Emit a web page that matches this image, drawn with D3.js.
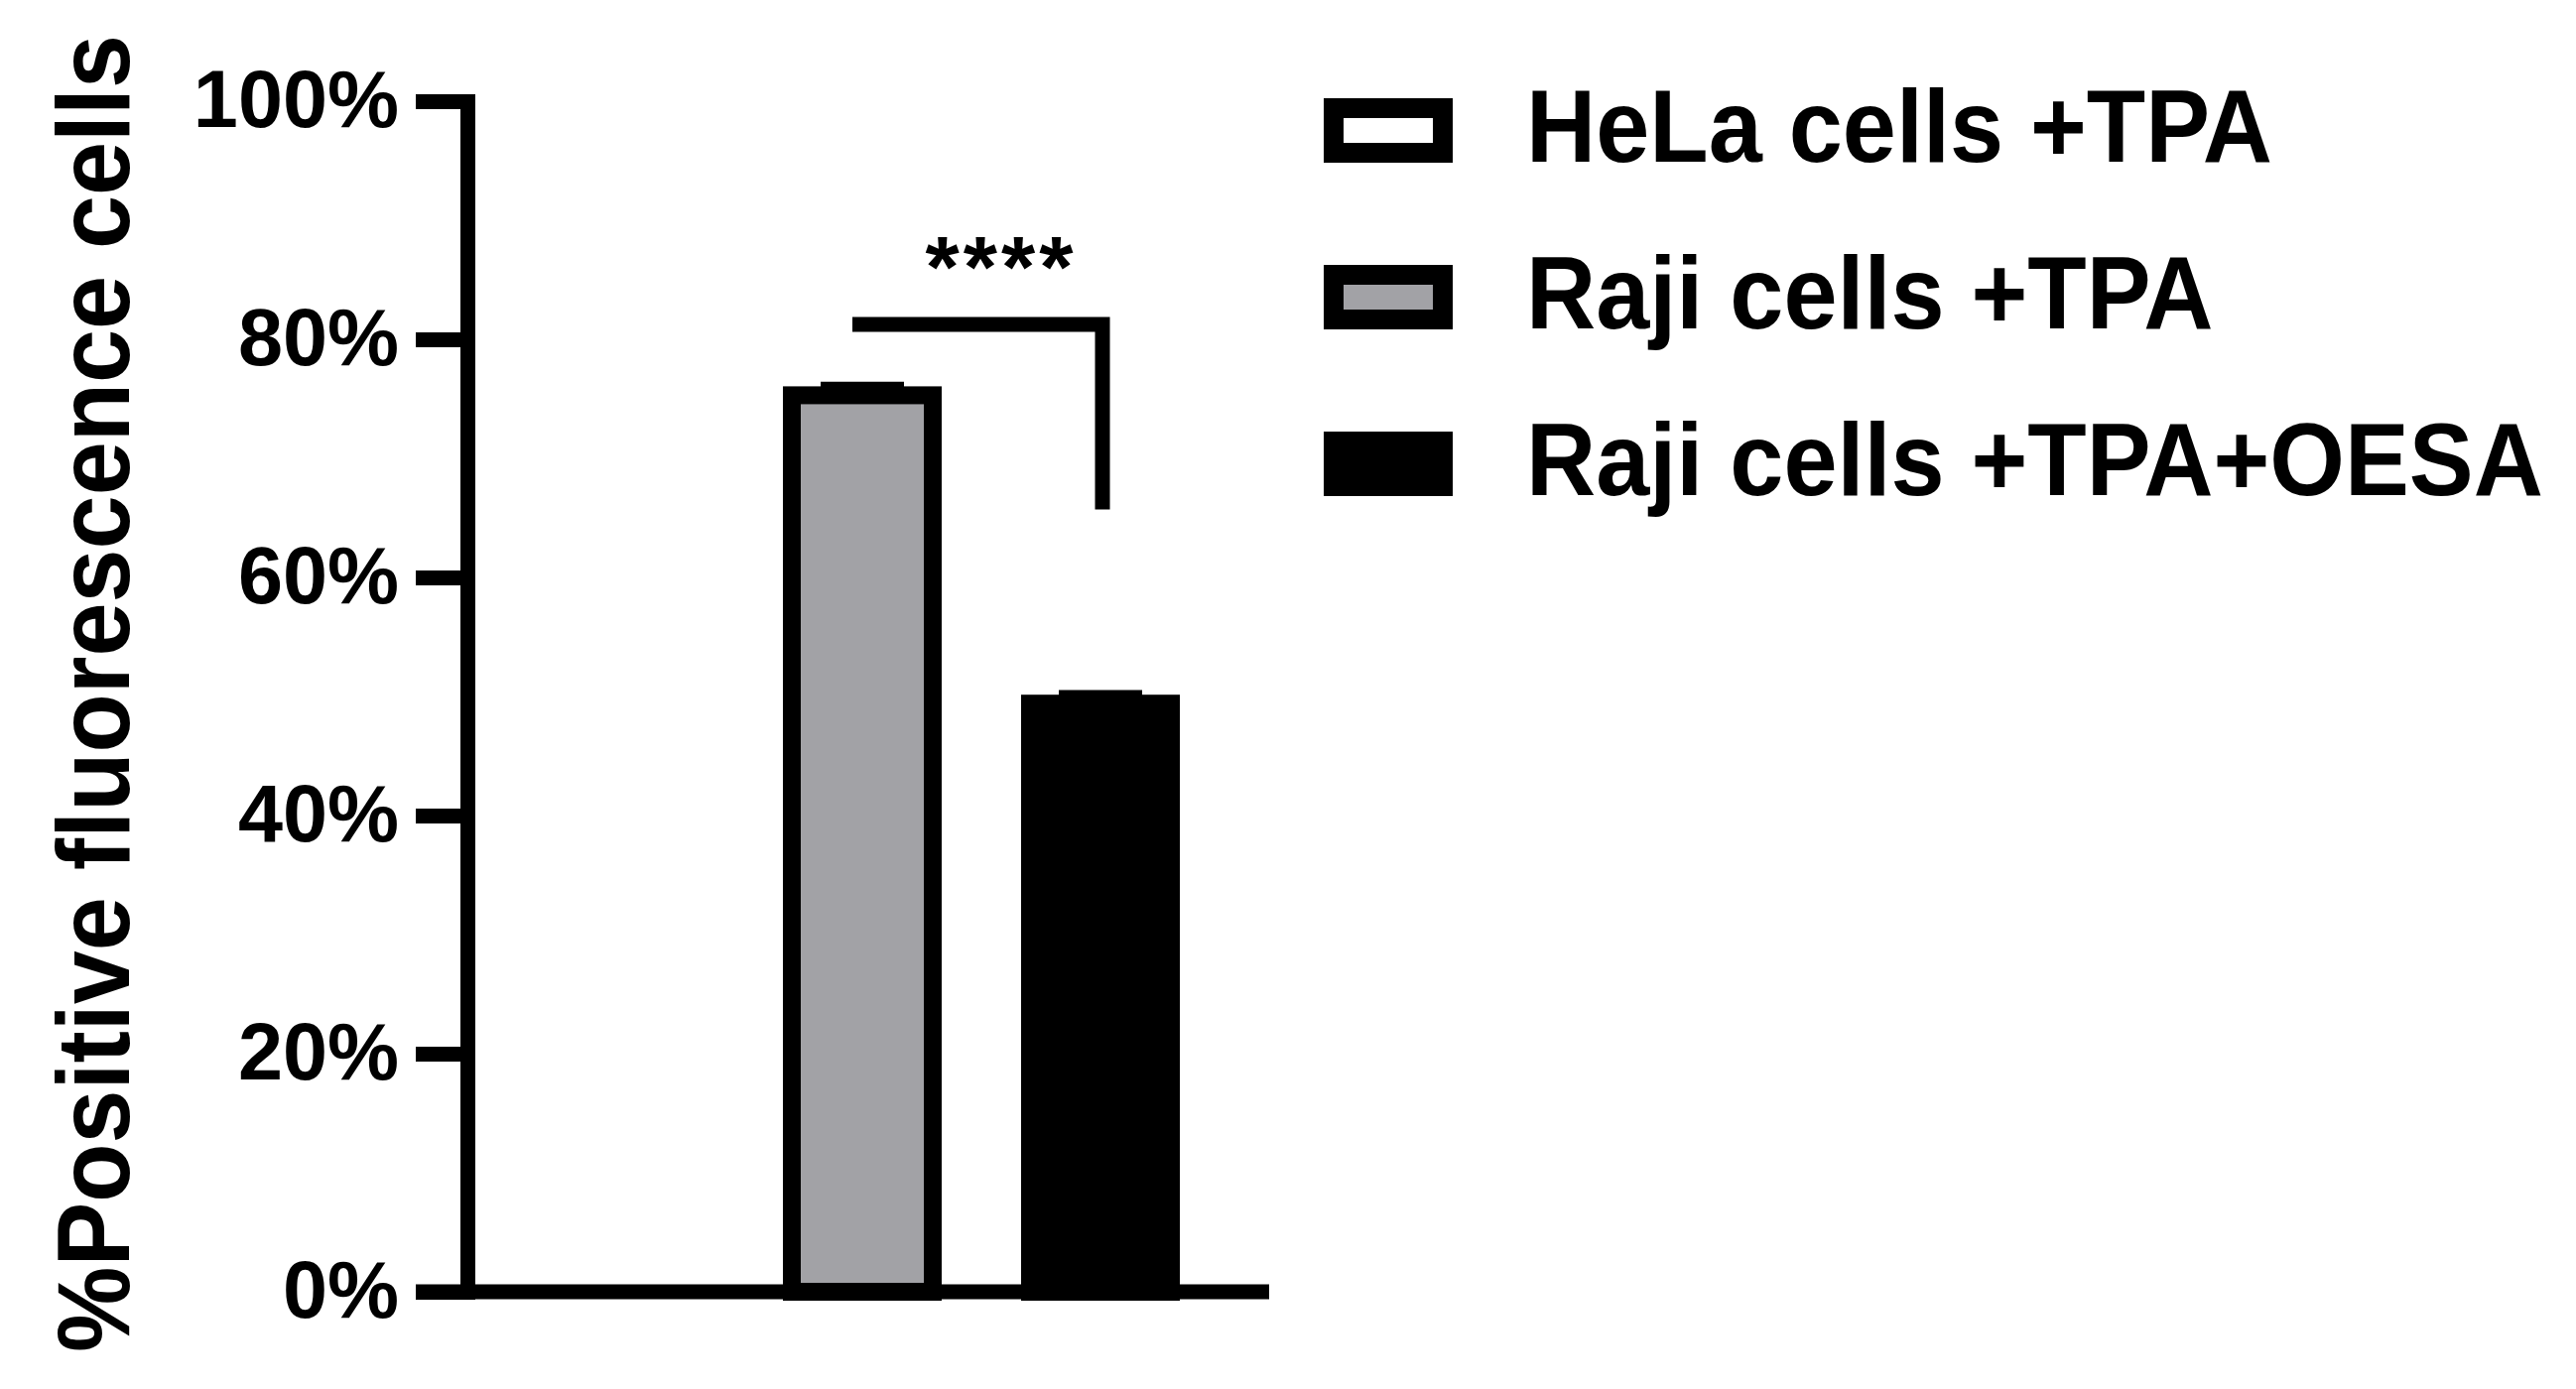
<!DOCTYPE html>
<html>
<head>
<meta charset="utf-8">
<script src="https://cdn.jsdelivr.net/npm/d3@7"></script>
<style>
  html, body { margin: 0; padding: 0; background: #fff; }
  text { font-family: "Liberation Sans", Arial, sans-serif; font-weight: bold; fill: #000; }
</style>
</head>
<body>
<svg id="chart" width="2596" height="1400"></svg>
<script>
const groups = ["HeLa cells +TPA", "Raji cells +TPA", "Raji cells +TPA+OESA"];
const means = [0, 75.3, 49.4];
const sds = [0, 0.8, 0.8];
const fills = ["#ffffff", "#a2a2a6", "#000000"];
const yTicks = [0, 20, 40, 60, 80, 100];
const yTitle = "%Positive fluorescence cells";
// significance bracket: between groups, height of bar and drop end (in %)
const sigPair = ["Raji cells +TPA", "Raji cells +TPA+OESA"];
const sigLevel = [81.25, 65.7];
const sigLabel = "****";

const svg = d3.select("#chart");
svg.append("rect").attr("width", 2596).attr("height", 1400).attr("fill", "#fff");

const axisX = 471;
const y = d3.scaleLinear().domain([0, 100]).range([1302, 102]);
const x = d3.scaleBand().domain(groups).range([509, 1229])
  .paddingInner(0.4083).paddingOuter(0.204);

const data = groups.map((g, i) => ({ group: g, mean: means[i], sd: sds[i], fill: fills[i] }));

// bars
const barStroke = 18;
svg.append("g").selectAll("rect")
  .data(data.filter(d => d.mean > 0))
  .join("rect")
  .attr("x", d => x(d.group))
  .attr("y", d => y(d.mean))
  .attr("width", x.bandwidth())
  .attr("height", d => y(0) - y(d.mean))
  .attr("fill", d => d.fill)
  .attr("stroke", "#000")
  .attr("stroke-width", barStroke);

// error bars (tiny SD)
const errG = svg.append("g");
data.filter(d => d.mean > 0).forEach(d => {
  const cx = x(d.group) + x.bandwidth() / 2;
  errG.append("line")
    .attr("x1", cx - 42).attr("x2", cx + 42)
    .attr("y1", y(d.mean + d.sd)).attr("y2", y(d.mean + d.sd))
    .attr("stroke", "#000").attr("stroke-width", 8);
});

// y axis
const yAxis = svg.append("g")
  .attr("transform", `translate(${axisX},0)`)
  .call(d3.axisLeft(y).tickValues(yTicks).tickFormat(d => d + "%")
    .tickSize(52).tickPadding(17).tickSizeOuter(0));
yAxis.select(".domain").attr("stroke", "#000").attr("stroke-width", 15)
  .attr("stroke-linecap", "square");
yAxis.selectAll(".tick line").attr("stroke", "#000").attr("stroke-width", 15);
yAxis.selectAll(".tick text")
  .attr("font-size", 81)
  .attr("font-family", "'Liberation Sans', Arial, sans-serif")
  .attr("font-weight", "bold")
  .attr("fill", "#000")
  .attr("dy", "0.32em");

// x baseline
svg.append("line")
  .attr("x1", 419).attr("x2", 1279)
  .attr("y1", y(0)).attr("y2", y(0))
  .attr("stroke", "#000").attr("stroke-width", 15);

// y title
svg.append("text")
  .attr("transform", "translate(130,699) rotate(-90) scale(0.934,1)")
  .attr("text-anchor", "middle")
  .attr("font-size", 104)
  .text(yTitle);

// significance bracket
const sx1 = x(sigPair[0]) + x.bandwidth() / 2 - 10;
const sx2 = x(sigPair[1]) + x.bandwidth() / 2 + 2;
svg.append("path")
  .attr("d", `M${sx1},${y(sigLevel[0])}H${sx2}V${y(sigLevel[1])}`)
  .attr("fill", "none")
  .attr("stroke", "#000")
  .attr("stroke-width", 15)
  .attr("stroke-linejoin", "miter");
svg.append("text")
  .attr("x", (sx1 + sx2) / 2 + 24)
  .attr("y", y(sigLevel[0]) - 28)
  .attr("text-anchor", "middle")
  .attr("font-size", 88)
  .attr("letter-spacing", 4)
  .text(sigLabel);

// legend
const legend = svg.append("g");
const rowY = d3.scalePoint().domain(groups).range([131.5, 467.5]);
legend.selectAll("rect")
  .data(data)
  .join("rect")
  .attr("x", 1344)
  .attr("y", d => rowY(d.group) - 22.5)
  .attr("width", 110)
  .attr("height", 45)
  .attr("fill", d => d.fill)
  .attr("stroke", "#000")
  .attr("stroke-width", 20);
legend.selectAll("text")
  .data(data)
  .join("text")
  .attr("transform", d => `translate(1538,${rowY(d.group) + 31.5}) scale(0.935,1)`)
  .attr("font-size", 104)
  .text(d => d.group);
</script>
</body>
</html>
